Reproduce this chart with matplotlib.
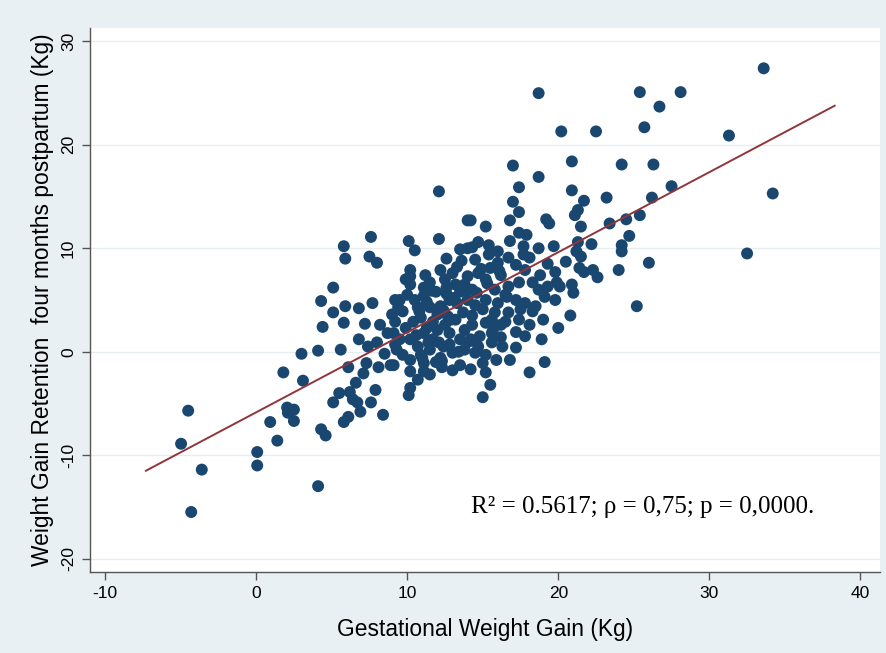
import matplotlib
matplotlib.use('Agg')
import matplotlib.pyplot as plt
import numpy as np

plt.rcParams['axes.unicode_minus'] = False

# gestational weight gain (x) and retention at four months (y)
gain = [
    -4.97, -4.5, -4.3, -3.6, 0.07, 0.07, 0.93, 1.4, 1.8, 2.05, 2.1, 2.5, 2.5, 3.0, 3.1,
    4.1, 4.1, 4.3, 4.4, 4.3, 4.6, 5.1, 5.8, 5.9, 5.9, 5.8, 5.6, 6.1, 5.5, 6.2,
    5.1, 6.4, 6.7, 6.9, 7.6, 8.4, 6.1, 5.8, 6.8, 7.7, 7.2, 6.8, 7.4, 8.0, 8.7,
    7.3, 7.1, 8.1, 8.9, 7.6, 7.5, 8.0, 5.1, 7.9, 6.6, 8.5, 9.2,
    12.1, 14.0, 10.1, 10.5, 12.1, 14.0, 12.6, 13.6, 10.2, 10.2, 13.0, 13.3, 11.5, 11.1, 12.6, 10.2,
    11.9, 10.0, 11.1, 12.6, 13.5, 9.7, 11.3, 12.2, 13.3, 10.4, 11.7, 12.7, 13.7, 9.1, 10.2,
    11.1, 12.0, 12.8, 13.5, 9.3, 10.7, 11.5, 12.4, 13.0, 9.1, 10.2, 11.1, 12.2, 10.2, 11.1,
    13.0, 10.2, 10.1, 9.5, 9.9, 10.7, 9.2, 14.0, 14.0, 9.5, 9.7, 11.7, 12.5, 13.2, 10.9,
    11.5, 11.2, 12.2, 12.8, 9.4, 12.1, 13.8, 13.5, 12.3, 10.7, 11.5, 9.2,
    17.0, 18.7, 17.4, 17.0, 17.4, 16.8, 19.2, 19.4, 14.2, 15.2, 17.4, 17.9, 16.8, 14.7, 15.4,
    14.3, 17.7, 18.7, 19.7, 16.0, 15.4, 16.7, 14.5, 17.7, 19.3, 16.0, 17.2, 18.7,
    14.7, 15.2, 14.3, 15.8, 16.7, 17.4, 18.3, 18.7, 19.3, 19.9, 15.2, 16.0, 17.2, 17.8, 18.5,
    19.1, 14.3, 15.0, 15.8, 16.7, 18.3, 14.3, 15.2, 16.5, 17.4, 20.0, 14.8, 15.6, 17.2, 17.8,
    14.7, 15.6, 16.3, 17.2, 14.5, 15.2, 15.0, 15.2, 19.1, 18.1, 15.0,
    16.2, 17.8, 19.8, 15.5, 18.1, 18.8, 13.8, 16.5, 19.8, 19.0, 16.2, 14.2, 16.8, 15.5,
    25.4, 28.1, 26.7, 20.2, 22.5, 25.7, 20.9, 24.2, 26.3, 20.9, 21.7, 23.2, 26.2, 27.5, 21.3,
    21.1, 21.5, 23.4, 24.5, 25.4, 24.7, 22.2, 21.3, 21.2, 21.5, 24.2, 24.2, 21.4, 21.7, 22.3,
    22.6, 24.0, 26.0, 20.1, 20.9, 21.0, 25.2, 20.8, 20.5,
    33.6, 31.3, 34.2, 32.5,
    10.5, 12.5, 13.2, 12.0, 11.3, 9.9, 12.8, 10.9, 11.9, 13.8, 14.5, 15.6, 17.5, 18.1, 16.2,
    13.5, 9.0, 8.2, 14.2, 15.9, 18.9,
    10.8, 11.6, 12.4, 13.1, 13.9, 14.6, 15.3, 16.1, 10.6, 11.4, 12.9, 14.1, 15.7, 16.6, 12.3,
    13.4, 11.0, 14.9,
]
retention = [
    -8.9, -5.7, -15.5, -11.4, -9.7, -11.0, -6.8, -8.6, -2.0, -5.4, -5.9, -5.6, -6.7, -0.2, -2.8,
    0.1, -13.0, 4.9, 2.4, -7.5, -8.1, 6.2, 10.2, 9.0, 4.4, 2.8, 0.2, -1.5, -4.0, -3.9,
    -4.9, -4.6, -4.9, -5.8, -4.9, -6.1, -6.3, -6.8, 4.2, 4.7, 2.7, 1.2, 0.5, 0.9, 1.8,
    -1.1, -2.1, -1.5, -1.3, 11.1, 9.2, 8.6, 3.8, -3.7, -3.0, -0.2, 0.7,
    15.5, 12.7, 10.7, 9.8, 10.9, 10.0, 9.0, 8.8, 7.9, 7.3, 7.6, 8.2, 6.7, 6.2, 6.2, 6.5,
    5.8, 5.5, 5.4, 5.6, 5.8, 3.9, 4.8, 4.4, 4.7, 2.9, 2.9, 3.4, 3.8, 1.8, 1.2,
    1.8, 2.1, 1.8, 1.2, 0.2, 0.5, 0.2, 0.5, -0.1, -1.3, -0.8, -1.1, -0.6, -1.9, -1.9,
    -1.8, -3.5, -4.2, 5.0, 7.0, 4.3, 2.9, 5.0, 7.3, 1.2, -0.3, 1.2, 2.6, 3.1, 3.3,
    4.3, 7.4, 7.9, 5.0, 4.3, 0.9, 0.2, -1.3, -1.5, -2.7, -2.2, 5.0,
    18.0, 16.9, 15.9, 14.5, 13.5, 12.7, 12.8, 12.4, 12.7, 12.1, 11.5, 11.3, 10.7, 10.6, 10.3,
    10.1, 10.2, 10.0, 10.2, 9.7, 9.4, 9.1, 8.9, 9.4, 8.5, 8.6, 8.4, 25.0,
    7.6, 7.0, 6.0, 6.0, 6.3, 6.7, 6.7, 6.0, 6.3, 6.7, 5.0, 4.7, 5.0, 4.7, 4.4,
    5.3, 3.5, 4.1, 3.8, 3.8, 3.9, 2.6, 2.8, 2.9, 3.1, 2.3, 1.5, 1.8, 1.9, 1.5,
    0.5, 0.9, 0.5, 0.4, -0.1, -0.3, -1.1, -2.0, -1.0, -2.0, -4.4,
    7.4, 7.9, 7.7, 8.1, 9.1, 7.4, 6.5, 5.5, 5.0, 3.1, 2.6, 1.2, -0.8, -3.2,
    25.1, 25.1, 23.7, 21.3, 21.3, 21.7, 18.4, 18.1, 18.1, 15.6, 14.6, 14.9, 14.9, 16.0, 13.7,
    13.2, 12.1, 12.4, 12.8, 13.2, 11.2, 10.4, 10.6, 9.7, 9.2, 10.3, 9.7, 8.1, 7.7, 7.9,
    7.2, 7.9, 8.6, 6.3, 6.5, 5.7, 4.4, 3.5, 8.7,
    27.4, 20.9, 15.3, 9.5,
    5.0, 7.0, 6.5, 3.6, 2.3, 2.3, 0.7, -0.3, -1.0, 2.1, 4.5, 3.1, 4.1, 2.6, 1.4,
    9.9, 3.6, 2.6, -1.7, -0.8, 1.2,
    3.9, 5.9, 4.0, 5.2, 6.0, 5.7, 6.6, 7.8, 1.6, 0.9, 3.1, 1.0, 2.2, 5.3, -0.9,
    0.0, -0.6, 8.0,
]

# fitted line
fit_intercept = -5.86
fit_slope = 0.774
fit_range = [-7.3, 38.3]

x_ticks = [-10, 0, 10, 20, 30, 40]
y_ticks = [-20, -10, 0, 10, 20, 30]
note = 'R\u00b2 = 0.5617; \u03c1 = 0,75; p = 0,0000.'

sans = ['Liberation Sans', 'DejaVu Sans']

fig = plt.figure(figsize=(8.86, 6.53), dpi=100)
fig.patch.set_facecolor('#E9F0F3')
ax = fig.add_axes([90/886, 1-572/653, 790/886, 544/653])
ax.set_facecolor('white')

for yt in y_ticks:
    ax.axhline(yt, color='#E6EDF0', lw=1.0, zorder=0)

ax.scatter(gain, retention, s=74, color='#1A476F', edgecolors='none', zorder=2)

fx = np.array(fit_range)
ax.plot(fx, fit_intercept + fit_slope*fx, color='#90353B', lw=1.4, zorder=3)

ax.set_xlim(-11.0, 41.3)
ax.set_ylim(-21.3, 31.3)
ax.set_xticks(x_ticks)
ax.set_yticks(y_ticks)
for s in ['top', 'right']:
    ax.spines[s].set_visible(False)
for s in ['left', 'bottom']:
    ax.spines[s].set_color('#555555')
    ax.spines[s].set_linewidth(1.0)
ax.tick_params(direction='out', length=6, width=1, color='#555555', labelsize=12.5, pad=4)
for lab in ax.get_xticklabels():
    lab.set_family(sans)
for lab in ax.get_yticklabels():
    lab.set_family(sans)
    lab.set_rotation(90)
    lab.set_va('center')

ax.set_xlabel('Gestational Weight Gain (Kg)', family=sans, fontsize=16.4, labelpad=12)
ax.set_ylabel('Weight Gain Retention  four months postpartum (Kg)', family=sans, fontsize=16.4, labelpad=5)

ax.text(14.2, -15.0, note, family=['Liberation Serif', 'DejaVu Serif'], fontsize=18,
        va='center', ha='left', zorder=4)

plt.savefig('out.png', dpi=100, facecolor=fig.get_facecolor())
